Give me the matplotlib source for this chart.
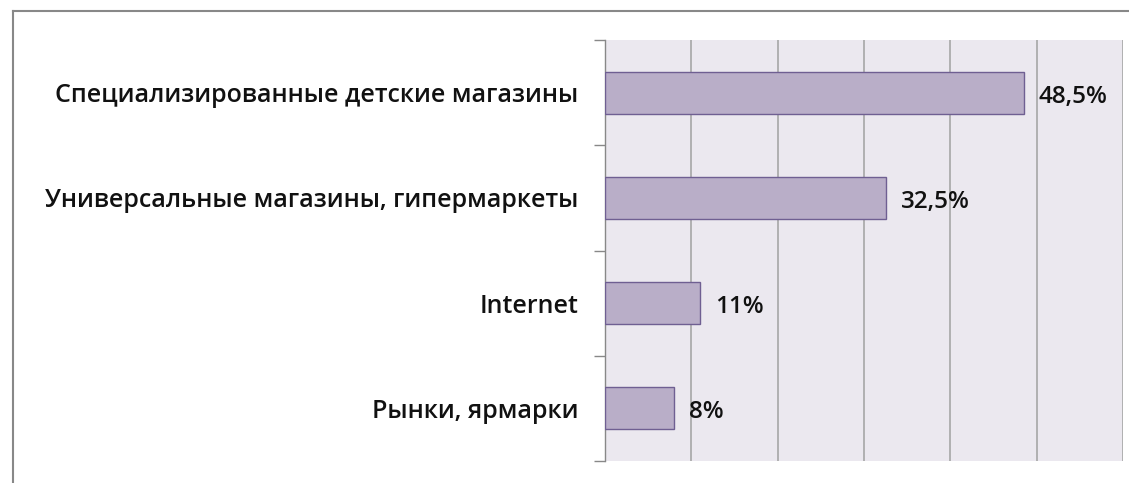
import matplotlib
matplotlib.use("Agg")
import matplotlib.pyplot as plt
from matplotlib.lines import Line2D

categories = ["Специализированные детские магазины",
              "Универсальные магазины, гипермаркеты",
              "Internet",
              "Рынки, ярмарки"]
values = [48.5, 32.5, 11, 8]
value_labels = ["48,5%", "32,5%", "11%", "8%"]

plt.rcParams['font.family'] = ['Open Sans', 'DejaVu Sans']

fig = plt.figure(figsize=(11.29, 4.83), dpi=100)
fig.patch.set_facecolor("white")
ax = fig.add_axes([605/1129, 1-461/483, (1123-605)/1129, (461-40)/483])
ax.set_facecolor("#ebe8ef")

y = list(range(len(categories)))
ax.barh(y, values, height=0.4, color="#b9aec8", edgecolor="#6f5f92", linewidth=1.0, zorder=3)
ax.set_xlim(0, 60)
ax.set_ylim(len(categories)-0.5, -0.5)
ax.set_xticks(range(0, 61, 10))
ax.xaxis.grid(True, color="#a6a6a6", linewidth=1.2, zorder=1)
ax.tick_params(axis='x', length=0, labelbottom=False)
ax.set_yticks(y)
ax.set_yticklabels(categories, fontsize=18, fontweight='semibold', color="#111111")
ax.set_yticks([i - 0.5 for i in range(len(categories)+1)], minor=True)
ax.tick_params(axis='y', which='major', length=0, pad=19)
ax.tick_params(axis='y', which='minor', length=8, width=1, color="#888888")
for s in ['top', 'right', 'bottom']:
    ax.spines[s].set_visible(False)
ax.spines['left'].set_color("#888888")
ax.spines['left'].set_linewidth(1)

for yi, v, lab in zip(y, values, value_labels):
    ax.annotate(lab, xy=(v, yi), xytext=(15, -4), textcoords='offset pixels',
                ha='left', va='center', fontsize=17.5, fontweight='semibold', color="#111111", zorder=4)

fig.add_artist(Line2D([13/1129, 13/1129], [0, 1-11/483], transform=fig.transFigure, color="#888888", linewidth=1.5))
fig.add_artist(Line2D([13/1129, 1], [1-11/483, 1-11/483], transform=fig.transFigure, color="#888888", linewidth=1.5))

fig.savefig("out.png", dpi=100, facecolor="white")
